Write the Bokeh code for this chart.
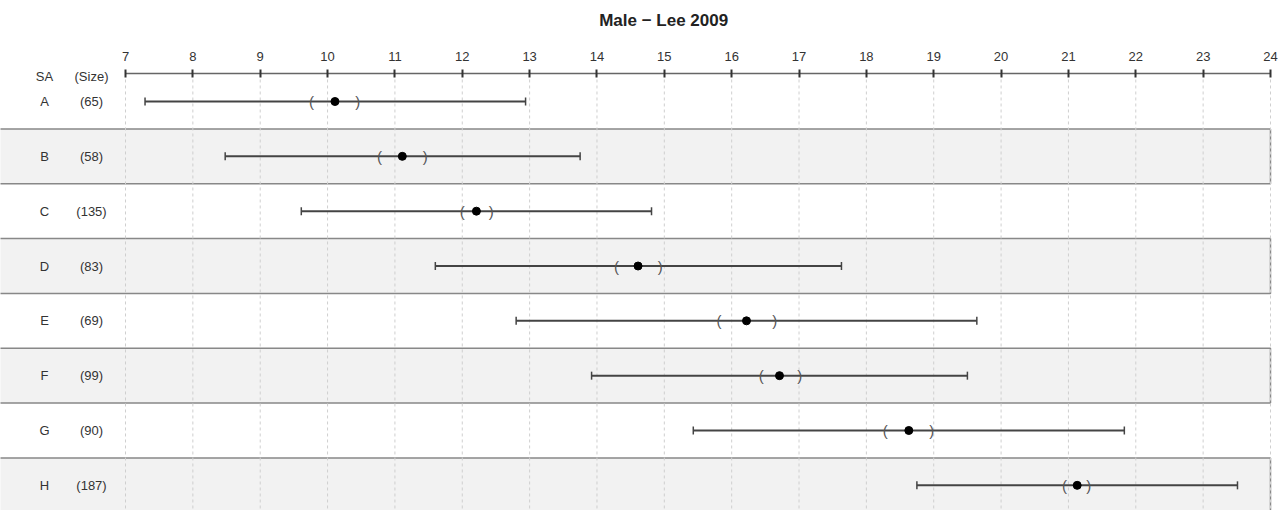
from bokeh.plotting import figure
from bokeh.models import Range1d, LinearAxis, FixedTicker, ColumnDataSource
from bokeh.core.properties import value
from bokeh.embed import file_html
from bokeh.resources import INLINE

# ---- data ----
groups = ["A", "B", "C", "D", "E", "F", "G", "H"]
sizes = [65, 58, 135, 83, 69, 99, 90, 187]
means = [10.11, 11.11, 12.21, 14.61, 16.22, 16.71, 18.63, 21.13]
ci_low = [9.76, 10.77, 12.00, 14.29, 15.81, 16.44, 18.28, 20.94]
ci_high = [10.45, 11.45, 12.43, 14.94, 16.64, 17.01, 18.97, 21.30]
range_low = [7.29, 8.48, 9.61, 11.60, 12.80, 13.92, 15.43, 18.75]
range_high = [12.94, 13.75, 14.81, 17.63, 19.64, 19.50, 21.83, 23.51]
x_ticks = list(range(7, 25))
header = ["SA", "(Size)"]
title_text = "Male \u2212 Lee 2009"

FONT = "Liberation Sans"
TXT = "#333333"
AXIS_Y = -0.511      # row units: where the scale line sits
TITLE_Y = -1.477
TITLE_X = 14.99
Y_TOP = -1.842
Y_BOTTOM = 7.459

rows = list(range(len(groups)))
src = ColumnDataSource(dict(
    y=rows, g=groups, s=["(%d)" % v for v in sizes],
    mean=means, lo=ci_low, hi=ci_high, rlo=range_low, rhi=range_high,
))

p = figure(width=1284, height=510,
           x_range=Range1d(5.144, 24.208), y_range=Range1d(Y_BOTTOM, Y_TOP),
           output_backend="svg", toolbar_location=None,
           x_axis_location=None, y_axis_location=None,
           min_border_left=0, min_border_right=0, min_border_bottom=0,
           min_border_top=0)
for g in p.grid:
    g.visible = False
p.outline_line_color = None
p.background_fill_color = "white"
p.border_fill_color = "white"

ax = LinearAxis(ticker=FixedTicker(ticks=x_ticks), bounds=(x_ticks[0], x_ticks[-1]),
                fixed_location=AXIS_Y)
ax.axis_line_color = "#666666"
ax.axis_line_width = 1.5
ax.major_tick_line_color = "#333333"
ax.major_tick_line_width = 2
ax.major_tick_in = 4
ax.major_tick_out = 4
ax.minor_tick_line_color = None
ax.major_label_text_font = FONT
ax.major_label_text_font_size = "13px"
ax.major_label_text_color = TXT
ax.major_label_standoff = 8
p.add_layout(ax, "above")

# title
p.text(x=[TITLE_X], y=[TITLE_Y], text=[title_text], text_align="center", text_baseline="middle",
       text_font=value(FONT), text_font_size="17px", text_font_style="bold", text_color="#222222")

# dotted vertical reference lines from the scale downwards
p.segment(x0=x_ticks, x1=x_ticks, y0=[AXIS_Y] * len(x_ticks), y1=[Y_BOTTOM + 1] * len(x_ticks),
          line_color="#cfcfcf", line_dash="3 3", line_width=1, level="underlay")

# alternating shaded bands (B, D, F, H)
band_rows = [i for i in rows if i % 2 == 1]
p.quad(left=[4.9] * len(band_rows), right=[x_ticks[-1]] * len(band_rows),
       top=[i - 0.5 for i in band_rows], bottom=[i + 0.5 for i in band_rows],
       fill_color="#f2f2f2", line_color="#888888", line_width=1.5, level="image")

# whiskers
p.segment(x0="rlo", x1="rhi", y0="y", y1="y", source=src, line_color="#444444", line_width=2)
p.scatter(x="rlo", y="y", source=src, marker="dash", angle=1.5708, size=8,
          line_color="#444444", line_width=1.5)
p.scatter(x="rhi", y="y", source=src, marker="dash", angle=1.5708, size=8,
          line_color="#444444", line_width=1.5)

# CI brackets
p.text(x="lo", y="y", text=value("("), source=src, text_align="center",
       text_baseline="middle", text_font=value(FONT), text_font_size="15px",
       text_color="#555555")
p.text(x="hi", y="y", text=value(")"), source=src, text_align="center",
       text_baseline="middle", text_font=value(FONT), text_font_size="15px",
       text_color="#555555")

# means
p.scatter(x="mean", y="y", source=src, marker="circle", size=8,
          fill_color="black", line_color="black")

# row labels and header
LX = [5.797, 6.495]
p.text(x=LX[0], y="y", text="g", source=src, text_align="center", text_baseline="middle",
       text_font=value(FONT), text_font_size="13px", text_color=TXT)
p.text(x=LX[1], y="y", text="s", source=src, text_align="center", text_baseline="middle",
       text_font=value(FONT), text_font_size="13px", text_color=TXT)
p.text(x=LX, y=[AXIS_Y + 0.047] * 2, text=header, text_align="center", text_baseline="middle",
       text_font=value(FONT), text_font_size="13px", text_color=TXT)

open("out.html", "w").write(file_html(p, INLINE))
